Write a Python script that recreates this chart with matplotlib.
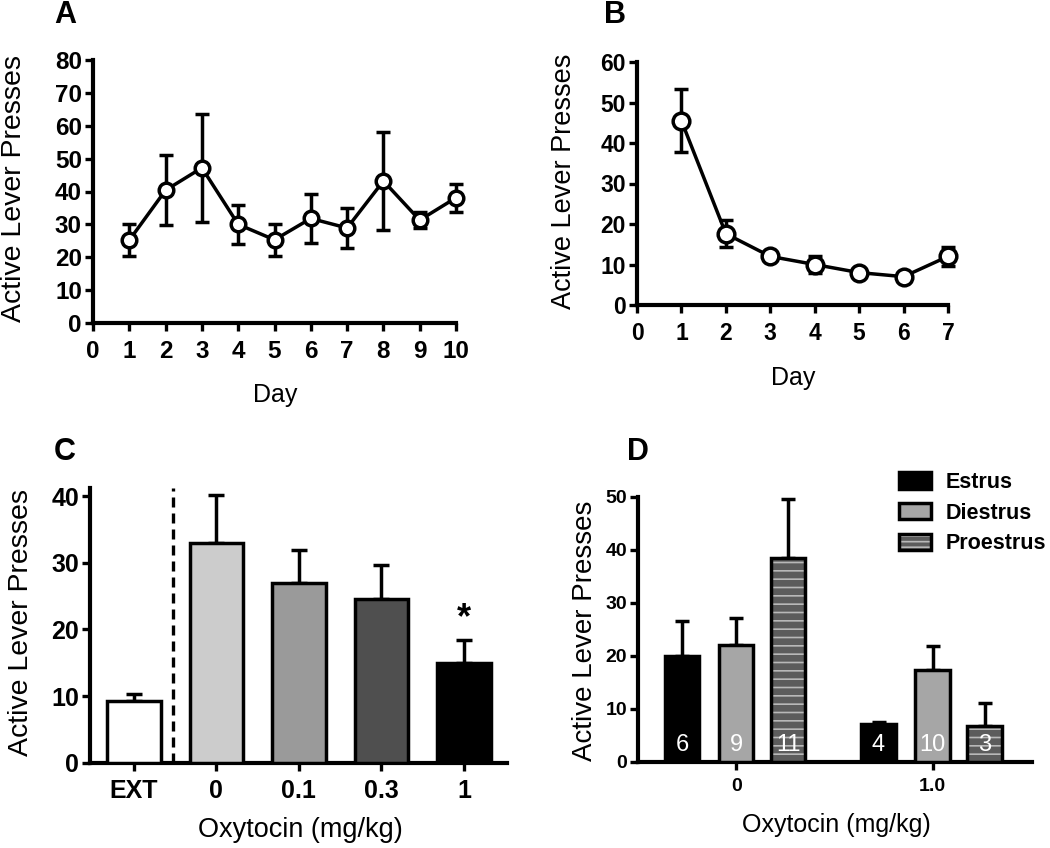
import matplotlib
matplotlib.use("Agg")
import matplotlib.pyplot as plt
import numpy as np
from matplotlib.patches import Patch
from matplotlib.legend_handler import HandlerTuple

plt.rcParams['font.family'] = ['Liberation Sans', 'DejaVu Sans']
plt.rcParams['font.weight'] = 'bold'
plt.rcParams['hatch.linewidth'] = 1.2

# Panel A: acquisition days
days_a = [1, 2, 3, 4, 5, 6, 7, 8, 9, 10]
mean_a = [25.2, 40.4, 47.2, 30.0, 25.3, 31.8, 28.9, 43.2, 31.3, 38.1]
sem_a = [4.8, 10.6, 16.5, 6.0, 4.8, 7.4, 6.0, 14.8, 2.4, 4.3]

# Panel B: extinction days
days_b = [1, 2, 3, 4, 5, 6, 7]
mean_b = [45.5, 17.6, 12.0, 10.0, 8.0, 7.0, 12.0]
sem_b = [7.8, 3.4, 0.9, 2.0, 1.0, 0.8, 2.4]

# Panel C: oxytocin dose
doses_c = ['EXT', '0', '0.1', '0.3', '1']
mean_c = [9.2, 33.0, 27.0, 24.6, 15.0]
sem_c = [1.1, 7.2, 4.9, 5.0, 3.4]
colors_c = ['white', '#cccccc', '#9a9a9a', '#4f4f4f', 'black']

# Panel D: estrous cycle
doses_d = ['0', '1.0']
phases = ['Estrus', 'Diestrus', 'Proestrus']
mean_d = {'Estrus': [20.0, 7.2], 'Diestrus': [22.1, 17.3], 'Proestrus': [38.5, 6.8]}
sem_d = {'Estrus': [6.6, 0.3], 'Diestrus': [5.1, 4.6], 'Proestrus': [11.0, 4.2]}
n_d = {'Estrus': ['6', '4'], 'Diestrus': ['9', '10'], 'Proestrus': ['11', '3']}
colors_d = {'Estrus': 'black', 'Diestrus': '#a6a6a6', 'Proestrus': '#5c5c5c'}

W, H = 1050, 848
fig = plt.figure(figsize=(10.5, 8.48), dpi=100)

def px_axes(left, right, bottom, top):
    return fig.add_axes([left / W, 1 - bottom / H, (right - left) / W, (bottom - top) / H])

def style(ax, size):
    for s in ['top', 'right']:
        ax.spines[s].set_visible(False)
    for s in ['left', 'bottom']:
        ax.spines[s].set_linewidth(3.0)
    ax.tick_params(width=2.4, length=6, labelsize=size)
    ax.tick_params(axis='y', pad=2)
    ax.tick_params(axis='x', pad=6)

lw = 2.5

# ---- A ----
axA = px_axes(93, 456, 323, 60)
axA.errorbar(days_a, mean_a, yerr=sem_a, fmt='none', ecolor='black', elinewidth=lw,
             capsize=5, capthick=lw, clip_on=False)
axA.plot(days_a, mean_a, '-o', color='black', lw=lw, ms=10.5, mfc='white', mec='black',
         mew=2.5, clip_on=False, zorder=5)
axA.set_xlim(0, 10)
axA.set_ylim(0, 80)
axA.set_xticks(range(0, 11))
axA.set_yticks(range(0, 81, 10))
style(axA, 17.5)
axA.set_xlabel('Day', fontsize=18, fontweight='normal', va='center')
axA.xaxis.set_label_coords(0.501, -0.274)
axA.set_ylabel('Active Lever Presses', fontsize=20.5, fontweight='normal', va='center')
axA.yaxis.set_label_coords(-0.218, 0.51)

# ---- B ----
axB = px_axes(637, 948, 305, 62)
axB.errorbar(days_b, mean_b, yerr=sem_b, fmt='none', ecolor='black', elinewidth=lw,
             capsize=5, capthick=lw, clip_on=False)
axB.plot(days_b, mean_b, '-o', color='black', lw=lw, ms=12, mfc='white', mec='black',
         mew=2.5, clip_on=False, zorder=5)
axB.set_xlim(0, 7)
axB.set_ylim(0, 60)
axB.set_xticks(range(0, 8))
axB.set_yticks(range(0, 61, 10))
style(axB, 16.5)
axB.set_xlabel('Day', fontsize=18, va='center')
axB.xaxis.set_label_coords(0.502, -0.30)
axB.set_ylabel('Active Lever Presses', fontsize=19.5, va='center')
axB.yaxis.set_label_coords(-0.2335, 0.51)

# ---- C ----
axC = px_axes(90, 507, 762.7, 488)
xc = np.arange(len(doses_c))
axC.bar(xc, mean_c, width=0.65, color=colors_c, edgecolor='black', linewidth=2.5, zorder=3)
axC.errorbar(xc, mean_c, yerr=[np.zeros(len(sem_c)), sem_c], fmt='none', ecolor='black',
             elinewidth=lw, capsize=6, capthick=lw, zorder=2)
axC.axvline(0.48, color='black', lw=2.4, ls=(0, (3, 1.8)))
axC.text(4, 21.6, '*', ha='center', va='center', fontsize=26)
axC.set_xlim(-0.53, 4.52)
axC.set_ylim(0, 41.2)
axC.set_xticks(xc)
axC.set_xticklabels(doses_c)
axC.set_yticks(range(0, 41, 10))
style(axC, 18)
axC.set_xlabel('Oxytocin (mg/kg)', fontsize=19.5, fontweight='normal', va='center')
axC.xaxis.set_label_coords(0.504, -0.245)
axC.set_ylabel('Active Lever Presses', fontsize=20.5, fontweight='normal', va='center')
axC.yaxis.set_label_coords(-0.165, 0.509)

# ---- D ----
axD = px_axes(638, 1031.7, 761.7, 496.7)
xd = np.arange(len(doses_d))
offs = [-0.275, 0.0, 0.265]
bw = 0.175
for ph, off in zip(phases, offs):
    pos = xd + off
    if ph == 'Proestrus':
        axD.bar(pos, mean_d[ph], width=bw, color=colors_d[ph], edgecolor='#b8b8b8',
                hatch='--', linewidth=0, zorder=3)
        axD.bar(pos, mean_d[ph], width=bw, fill=False, edgecolor='black', linewidth=2.5, zorder=4)
    else:
        axD.bar(pos, mean_d[ph], width=bw, color=colors_d[ph], edgecolor='black',
                linewidth=2.5, zorder=3)
    axD.errorbar(pos, mean_d[ph], yerr=[np.zeros(2), sem_d[ph]], fmt='none', ecolor='black',
                 elinewidth=lw, capsize=5, capthick=lw, zorder=2)
    for p, t in zip(pos, n_d[ph]):
        axD.text(p, 3.2, t, ha='center', va='center', color='white', fontsize=17,
                 fontweight='normal', zorder=6)
axD.set_xlim(-0.5, 1.505)
axD.set_ylim(0, 50)
axD.set_xticks(xd)
axD.set_xticklabels(doses_d)
axD.set_yticks(range(0, 51, 10))
style(axD, 14)
axD.set_xlabel('Oxytocin (mg/kg)', fontsize=18, va='center')
axD.xaxis.set_label_coords(0.505, -0.239)
axD.set_ylabel('Active Lever Presses', fontsize=20, fontweight='normal', va='center')
axD.yaxis.set_label_coords(-0.135, 0.493)

handles = [Patch(facecolor='black', edgecolor='black', linewidth=2.5),
           Patch(facecolor='#a6a6a6', edgecolor='black', linewidth=2.5),
           (Patch(facecolor='#5c5c5c', edgecolor='#b8b8b8', hatch='---', linewidth=0),
            Patch(fill=False, edgecolor='black', linewidth=2.5))]
fig.legend(handles, phases, loc='upper left', bbox_to_anchor=(899 / W, 1 - 472 / H),
           frameon=False, fontsize=15.5, handlelength=1.5, handleheight=0.8,
           labelspacing=0.45, handletextpad=0.65, borderpad=0, borderaxespad=0,
           handler_map={tuple: HandlerTuple(ndivide=1)})

# panel letters
for lab, x, y in [('A', 65, 15), ('B', 615, 15), ('C', 65, 452), ('D', 638, 452)]:
    fig.text(x / W, 1 - y / H, lab, ha='center', va='center', fontsize=22)

fig.savefig('out.png', dpi=100)
